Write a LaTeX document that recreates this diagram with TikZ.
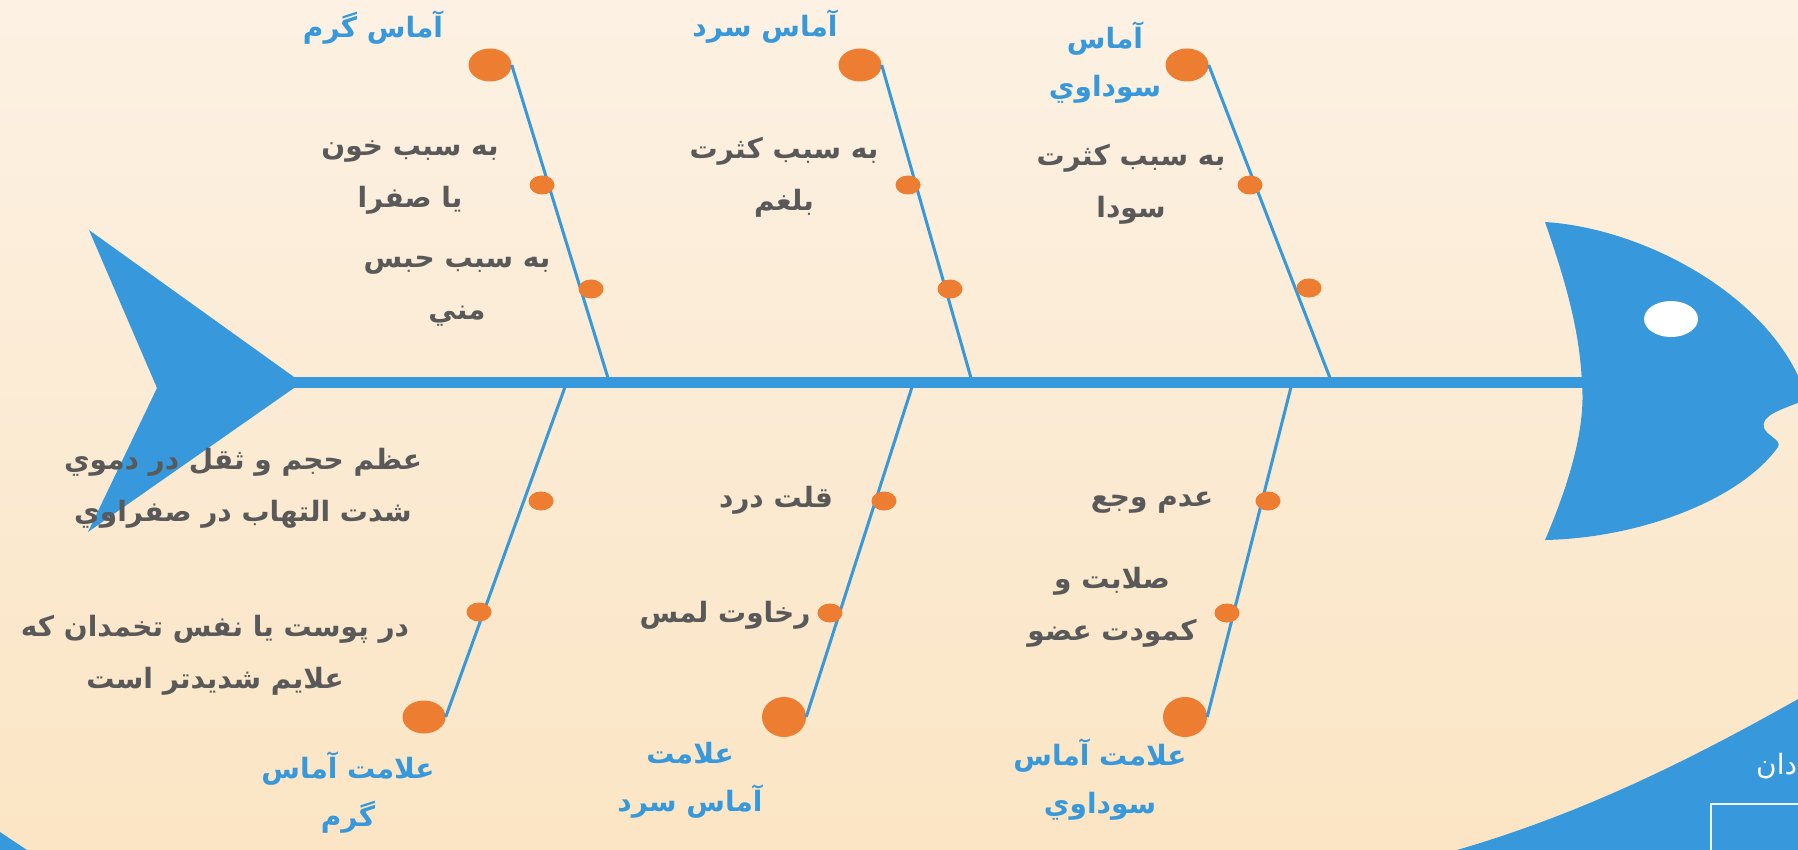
\documentclass[tikz,border=0pt]{standalone}
\usepackage{fontspec}
\usetikzlibrary{shapes.geometric}
\TeXXeTstate=1
\newfontfamily\arabicfont[Script=Arabic]{DejaVu Sans}
\newcommand\rtl[1]{\beginR #1\endR}
\definecolor{fishblue}{RGB}{55,152,219}
\definecolor{dotorange}{RGB}{237,125,49}
\definecolor{txtgray}{RGB}{89,89,89}
\definecolor{bgtop}{RGB}{252,241,227}
\definecolor{bgbot}{RGB}{251,229,196}
\begin{document}
\begin{tikzpicture}[x=1pt,y=-1pt,
  bigdot/.style={ellipse, fill=dotorange, minimum width=43pt, minimum height=33pt, inner sep=0pt},
  rounddot/.style={ellipse, fill=dotorange, minimum width=44pt, minimum height=40pt, inner sep=0pt},
  smalldot/.style={ellipse, fill=dotorange, minimum width=25pt, minimum height=19pt, inner sep=0pt},
  bone/.style={draw=fishblue, line width=3pt},
  graytxt/.style={text=txtgray, align=center, inner sep=0pt, font=\arabicfont\bfseries\fontsize{28}{52}\selectfont},
  bluetxt/.style={text=fishblue, align=center, inner sep=0pt, font=\arabicfont\bfseries\fontsize{28}{48}\selectfont}]
\useasboundingbox (0,0) rectangle (1798,850);
\clip (0,0) rectangle (1798,850);
% background
\shade[top color=bgtop, bottom color=bgbot] (0,0) rectangle (1798,850);
% decorations of the slide
\fill[fishblue] (1450,852) .. controls (1580,815) and (1690,760) .. (1800,698) -- (1800,852) -- cycle;
\fill[fishblue] (0,832) -- (30,852) -- (0,852) -- cycle;
\draw[white!90!fishblue, line width=2pt] (1711,804) rectangle (1900,900);
\node[anchor=west, text=white, inner sep=0pt, font=\arabicfont\fontsize{28}{32}\selectfont] (corner) at (1756,766) {\rtl{دان}};
% tail
\fill[fishblue] (89,230) -- (294,377) -- (294,388) -- (88,532) -- (157,388) -- cycle;
% spine
\fill[fishblue] (290,377) rectangle (1586,388);
% head
\fill[fishblue] (1545,222) .. controls (1640,228) and (1760,290) .. (1800,380)
  -- (1800,402) .. controls (1780,410) and (1760,416) .. (1764,428)
  .. controls (1767,436) and (1782,440) .. (1778,447)
  .. controls (1740,500) and (1640,538) .. (1545,540)
  .. controls (1575,470) and (1585,420) .. (1582,385)
  .. controls (1580,330) and (1565,280) .. (1545,222) -- cycle;
\fill[white] (1671,319) ellipse [x radius=27pt, y radius=18pt];
% spine points
\coordinate (s1) at (608,378);
\coordinate (s2) at (971,378);
\coordinate (s3) at (1330,378);
\coordinate (s4) at (565,387);
\coordinate (s5) at (912,387);
\coordinate (s6) at (1291,387);
% big circles
\node[bigdot] (c1) at (490,65) {};
\node[bigdot] (c2) at (860,65) {};
\node[bigdot] (c3) at (1187,65) {};
\node[bigdot] (c4) at (424,717) {};
\node[rounddot] (c5) at (784,717) {};
\node[rounddot] (c6) at (1185,717) {};
% bones
\draw[bone] (c1.east) -- (s1);
\draw[bone] (c2.east) -- (s2);
\draw[bone] (c3.east) -- (s3);
\draw[bone] (c4.east) -- (s4);
\draw[bone] (c5.east) -- (s5);
\draw[bone] (c6.east) -- (s6);
% small dots
\node[smalldot] (d1) at (542,185) {};
\node[smalldot] (d2) at (591,289) {};
\node[smalldot] (d3) at (908,185) {};
\node[smalldot] (d4) at (950,289) {};
\node[smalldot] (d5) at (1250,185) {};
\node[smalldot] (d6) at (1309,288) {};
\node[smalldot] (d7) at (541,501) {};
\node[smalldot] (d8) at (479,612) {};
\node[smalldot] (d9) at (884,501) {};
\node[smalldot] (d10) at (830,613) {};
\node[smalldot] (d11) at (1268,501) {};
\node[smalldot] (d12) at (1227,613) {};
% blue labels
\node[bluetxt] (b1) at (373,28) {\rtl{آماس گرم}};
\node[bluetxt] (b2) at (765,27) {\rtl{آماس سرد}};
\node[bluetxt] (b3) at (1105,63) {\rtl{آماس}\\\rtl{سوداوي}};
\node[bluetxt] (b4) at (348,793) {\rtl{علامت آماس}\\\rtl{گرم}};
\node[bluetxt] (b5) at (690,780) {\rtl{علامت}\\\rtl{آماس سرد}};
\node[bluetxt] (b6) at (1100,780) {\rtl{علامت آماس}\\\rtl{سوداوي}};
% gray texts
\node[graytxt] (t1) at (410,178) {\rtl{به سبب خون}\\\rtl{يا صفرا}};
\node[graytxt] (t2) at (457,291) {\rtl{به سبب حبس}\\\rtl{مني}};
\node[graytxt] (t3) at (784,177) {\rtl{به سبب كثرت}\\\rtl{بلغم}};
\node[graytxt] (t4) at (1131,184) {\rtl{به سبب كثرت}\\\rtl{سودا}};
\node[graytxt] (t5) at (243,488) {\rtl{عظم حجم و ثقل در دموي}\\\rtl{شدت التهاب در صفراوي}};
\node[graytxt] (t6) at (215,655) {\rtl{در پوست يا نفس تخمدان كه}\\\rtl{علايم شديدتر است}};
\node[graytxt] (t7) at (776,500) {\rtl{قلت درد}};
\node[graytxt] (t8) at (725,615) {\rtl{رخاوت لمس}};
\node[graytxt] (t9) at (1152,503) {\rtl{عدم وجع}};
\node[graytxt] (t10) at (1112,607) {\rtl{صلابت و}\\\rtl{كمودت عضو}};
\end{tikzpicture}
\end{document}
